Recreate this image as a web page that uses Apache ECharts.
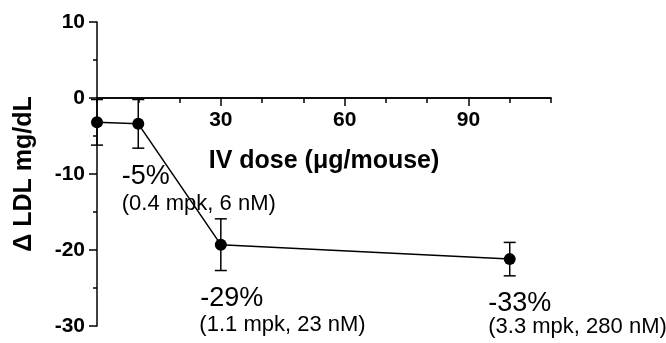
<!DOCTYPE html>
<html>
<head>
<meta charset="utf-8">
<script src="https://cdn.jsdelivr.net/npm/echarts@6/dist/echarts.min.js"></script>
<style>
  html, body { margin: 0; padding: 0; background: #fff; }
  #chart { width: 666px; height: 343px; }
</style>
</head>
<body>
<div id="chart"></div>
<script>
// dose (ug/mouse) vs change in LDL, mean +/- error
var doses = [0, 10, 30, 100]
var ldlChange = [-3.2, -3.4, -19.3, -21.2]
var ldlErr = [3.0, 3.2, 3.4, 2.2]

// axis ticks
var xLabelTicks = [30, 60, 90]
var yTicks = [-30, -20, -10, 0, 10]

// text notes, anchored in data units (left / middle)
var noteText = ['-5%', '(0.4 mpk, 6 nM)', '-29%', '(1.1 mpk, 23 nM)', '-33%', '(3.3 mpk, 280 nM)']
var noteX = [6.0, 6.0, 25.0, 24.8, 94.8, 94.8]
var noteY = [-10.3, -14.0, -26.4, -29.8, -27.1, -30.1]

var font = 'Liberation Sans, Arial, sans-serif'
var H = 343, gridTop = 22, gridBottom = 17
var yMin = yTicks[0], yMax = yTicks[yTicks.length - 1]
// x axes sit on y = 0: shift them up from the grid bottom
var zeroOffset = -(0 - yMin) / (yMax - yMin) * (H - gridTop - gridBottom)

var chart = echarts.init(document.getElementById('chart'))

var errData = doses.map(function (d, i) {
    return [d, ldlChange[i] - ldlErr[i], ldlChange[i] + ldlErr[i]]
})

var notes = noteText.map(function (t, i) {
    return {
        name: t,
        value: [noteX[i], noteY[i]],
        label: { fontSize: i % 2 ? 22 : 27 }
    }
})

var option = {
    animation: false,
    grid: {
        left: 97,
        right: 115,
        top: gridTop,
        bottom: gridBottom,
        outerBoundsMode: 'none'
    },
    xAxis: [{
        // labelled axis, long ticks
        type: 'value',
        min: 0,
        max: 110,
        interval: 10,
        position: 'bottom',
        offset: zeroOffset,
        axisLine: { onZero: false, lineStyle: { color: '#000', width: 1.5 } },
        axisTick: { customValues: xLabelTicks, length: 8, lineStyle: { color: '#000', width: 1.5 } },
        axisLabel: {
            customValues: xLabelTicks,
            margin: 12,
            color: '#000',
            fontFamily: font,
            fontWeight: 'bold',
            fontSize: 21
        },
        splitLine: { show: false },
        name: 'IV dose (\u03bcg/mouse)',
        nameLocation: 'middle',
        nameGap: 51,
        nameTextStyle: { color: '#000', fontFamily: font, fontWeight: 'bold', fontSize: 25 }
    }, {
        // short ticks every 10
        type: 'value',
        min: 0,
        max: 110,
        interval: 10,
        position: 'bottom',
        offset: zeroOffset,
        axisLine: { onZero: false, lineStyle: { color: '#000', width: 1.5 } },
        axisTick: { length: 5, lineStyle: { color: '#000', width: 1.5 } },
        axisLabel: { show: false },
        splitLine: { show: false }
    }],
    yAxis: {
        type: 'value',
        min: yMin,
        max: yMax,
        interval: 10,
        axisLine: { show: true, lineStyle: { color: '#000', width: 1.5 } },
        axisTick: { show: true, length: 8, lineStyle: { color: '#000', width: 1.5 } },
        minorTick: { show: true, splitNumber: 2, length: 4, lineStyle: { color: '#000', width: 1.5 } },
        axisLabel: {
            margin: 12,
            color: '#000',
            fontFamily: font,
            fontWeight: 'bold',
            fontSize: 21
        },
        splitLine: { show: false },
        name: '\u0394 LDL mg/dL',
        nameLocation: 'middle',
        nameGap: 60,
        nameTextStyle: { color: '#000', fontFamily: font, fontWeight: 'bold', fontSize: 25 }
    },
    series: [{
        name: 'err',
        type: 'custom',
        xAxisIndex: 0,
        z: 2,
        data: errData,
        renderItem: function (params, api) {
            var x = api.value(0)
            var lo = api.coord([x, api.value(1)])
            var hi = api.coord([x, api.value(2)])
            var hw = 6
            var st = { stroke: '#000', lineWidth: 1.5 }
            return {
                type: 'group',
                children: [
                    { type: 'line', shape: { x1: lo[0], y1: lo[1], x2: hi[0], y2: hi[1] }, style: st },
                    { type: 'line', shape: { x1: lo[0] - hw, y1: lo[1], x2: lo[0] + hw, y2: lo[1] }, style: st },
                    { type: 'line', shape: { x1: hi[0] - hw, y1: hi[1], x2: hi[0] + hw, y2: hi[1] }, style: st }
                ]
            }
        }
    }, {
        name: 'LDL',
        type: 'line',
        xAxisIndex: 0,
        z: 3,
        data: doses.map(function (d, i) { return [d, ldlChange[i]] }),
        symbol: 'circle',
        symbolSize: 12,
        itemStyle: { color: '#000' },
        lineStyle: { color: '#000', width: 1.5 },
        clip: false
    }, {
        name: 'notes',
        type: 'scatter',
        xAxisIndex: 0,
        z: 4,
        symbolSize: 0,
        clip: false,
        silent: true,
        itemStyle: { opacity: 1 },
        data: notes,
        label: {
            show: true,
            position: 'inside',
            align: 'left',
            verticalAlign: 'middle',
            color: '#000',
            opacity: 1,
            fontFamily: font,
            formatter: function (p) { return p.name }
        }
    }]
}

chart.setOption(option)
</script>
</body>
</html>
